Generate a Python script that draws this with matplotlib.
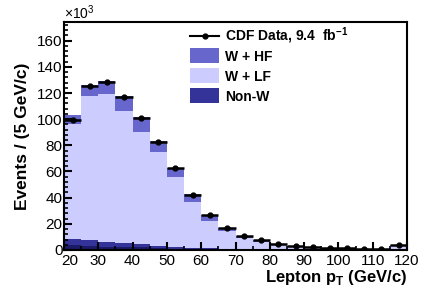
import matplotlib
matplotlib.use("Agg")
import matplotlib.pyplot as plt
import matplotlib.transforms as mtransforms
from matplotlib.lines import Line2D
from matplotlib.patches import Rectangle
from matplotlib.ticker import MultipleLocator
import numpy as np

plt.rcParams['font.family'] = ['Liberation Sans', 'DejaVu Sans']
plt.rcParams['mathtext.fontset'] = 'custom'
plt.rcParams['mathtext.rm'] = 'Liberation Sans'
plt.rcParams['mathtext.bf'] = 'Liberation Sans:bold'

# bin edges in GeV/c, counts in thousands
edges = np.arange(20, 125, 5)
data = [99.5, 125.5, 128.5, 117.0, 101.0, 82.5, 62.3, 42.3, 26.8, 16.5,
        10.8, 7.5, 4.8, 3.3, 2.4, 1.7, 1.3, 1.0, 0.8, 3.8]
non_w_dark = [3.5, 3.0, 2.6, 2.2, 2.0, 1.4, 0.9, 0.6, 0.4, 0.3,
              0.2, 0.1, 0.1, 0.1, 0.05, 0.05, 0.05, 0.05, 0.05, 0.1]
non_w = [8.7, 7.6, 6.4, 5.6, 4.8, 3.4, 2.2, 1.5, 1.2, 0.9,
         0.6, 0.4, 0.3, 0.2, 0.15, 0.1, 0.1, 0.1, 0.1, 0.3]
w_lf = [96.5, 118.0, 119.0, 106.5, 90.3, 74.8, 56.0, 36.7, 22.4, 14.3,
        9.0, 6.2, 4.0, 2.8, 2.0, 1.4, 1.1, 0.8, 0.6, 3.0]
w_hf = [103.0, 126.0, 129.5, 118.0, 101.5, 83.0, 62.5, 42.5, 26.8, 17.0,
        11.0, 7.6, 4.9, 3.4, 2.5, 1.8, 1.3, 1.0, 0.8, 4.0]

legend_labels = [r'CDF Data, 9.4  fb$^{\mathbf{-1}}$', 'W + HF', 'W + LF', 'Non-W']
legend_colors = [None, '#6666cc', '#ccccff', '#333399']

W, H = 429, 291
fig = plt.figure(figsize=(W / 100, H / 100), dpi=100)
ax = fig.add_axes([0.149, 0.141, 0.800, 0.782])

ax.stairs(w_hf, edges, baseline=0, fill=True, color='#6666cc', lw=0)
ax.stairs(w_lf, edges, baseline=0, fill=True, color='#ccccff', lw=0)
ax.stairs(non_w, edges, baseline=0, fill=True, color='#333399', lw=0)
ax.stairs(non_w_dark, edges, baseline=0, fill=True, color='#1a1a66', lw=0)

centers = edges[:-1] + 2.5
ax.errorbar(centers, data, xerr=2.5, fmt='o', color='black', ms=3.5,
            elinewidth=1.8, capsize=0)

ax.set_xlim(20, 120)
ax.set_ylim(0, 174)
ax.xaxis.set_major_locator(MultipleLocator(10))
ax.xaxis.set_minor_locator(MultipleLocator(5))
ax.yaxis.set_major_locator(MultipleLocator(20))
ax.yaxis.set_minor_locator(MultipleLocator(4))
ax.tick_params(axis='both', which='major', direction='in', length=6, width=1.5,
               labelsize=11, top=False, right=False)
ax.tick_params(axis='both', which='minor', direction='in', length=3, width=1.2,
               top=False, right=False)
ax.tick_params(axis='x', pad=3)
ax.tick_params(axis='y', pad=1)
for s in ax.spines.values():
    s.set_linewidth(1.5)

ax.set_ylabel('Events / (5 GeV/c)', fontsize=12.5, fontweight='bold', labelpad=5)
ax.set_xlabel(r'Lepton p$_\mathbf{T}$ (GeV/c)', fontsize=12, fontweight='bold',
              loc='right', labelpad=0)
ax.text(0.0, 1.0, r'$\times$10$^3$', transform=ax.transAxes, fontsize=10,
        ha='left', va='bottom')

# legend drawn by hand, positions in pixels from the top-left corner
x0, x1, xt = 190, 219, 225
for i, (lab, col) in enumerate(zip(legend_labels, legend_colors)):
    yc = H - (35.5 + 20 * i)
    if col is None:
        fig.add_artist(Line2D([x0 / W, x1 / W], [yc / H, yc / H], color='black',
                              lw=1.5, marker=None))
        fig.add_artist(Line2D([(x0 + x1) / 2 / W], [yc / H], color='black',
                              marker='o', ms=3.5, lw=0))
    else:
        fig.add_artist(Rectangle((x0 / W, (yc - 7.5) / H), (x1 - x0) / W, 15 / H,
                                 transform=fig.transFigure, color=col, lw=0))
    fig.text(xt / W, yc / H, lab, fontsize=10, fontweight='bold',
             ha='left', va='center_baseline' if i else 'center')

# nudge the first x label right so it clears the y "0", like the original
fig.canvas.draw()
for tick in ax.xaxis.get_major_ticks():
    if abs(tick.get_loc() - 20) < 1e-6:
        lbl = tick.label1
        lbl.set_transform(lbl.get_transform() +
                          mtransforms.ScaledTranslation(4 / 72, 0, fig.dpi_scale_trans))

fig.savefig('out.png', dpi=100)
